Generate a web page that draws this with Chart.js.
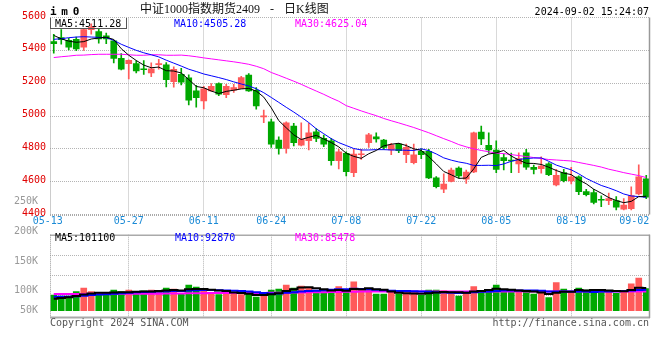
<!DOCTYPE html>
<html><head><meta charset="utf-8">
<script src="https://cdn.jsdelivr.net/npm/chart.js@4.4.1/dist/chart.umd.min.js"></script>
<style>
html,body{margin:0;padding:0;background:#fff;}
#wrap{position:relative;width:660px;height:360px;overflow:hidden;background:#fff;}
canvas{position:absolute;left:0;}
.t{position:absolute;white-space:pre;font-family:"DejaVu Sans Mono",monospace;font-size:10px;line-height:10px;}
</style></head><body>
<div id="wrap">
<canvas id="main" width="660" height="232" style="top:0px"></canvas>
<canvas id="vol" width="660" height="135" style="top:195px"></canvas>
<div class="t" style="left:50px;top:6px;font-size:11px;line-height:11px;font-weight:bold;letter-spacing:4.7px;color:#000">im0</div>
<div class="t" style="left:140px;top:3px;font-family:'Liberation Serif','Noto Sans CJK SC',serif;font-size:12px;line-height:12px;word-spacing:7px;color:#111">中证1000指数期货2409 - 日K线图</div>
<div class="t" style="right:11px;top:7px;color:#000">2024-09-02 15:24:07</div>
<div style="position:absolute;left:50px;top:18px;width:77px;height:11px;box-sizing:border-box;border:1px solid #555;border-top:none"></div>
<div class="t" style="left:55px;top:19px;color:#000">MA5:4511.28</div>
<div class="t" style="left:174px;top:19px;color:#0000ff">MA10:4505.28</div>
<div class="t" style="left:295px;top:19px;color:#ff00ff">MA30:4625.04</div>
<div class="t" style="left:55px;top:233px;color:#000">MA5:101100</div>
<div class="t" style="left:175px;top:233px;color:#0000ff">MA10:92870</div>
<div class="t" style="left:295px;top:233px;color:#ff00ff">MA30:85478</div>
<div class="t" style="left:50px;top:318px;color:#555">Copyright 2024 SINA.COM</div>
<div class="t" style="right:11px;top:318px;color:#555">http://finance.sina.com.cn</div>
</div>
<script>
const dates = ['05-13','05-14','05-15','05-16','05-17','05-20','05-21','05-22','05-23','05-24',
'05-27','05-28','05-29','05-30','05-31','06-03','06-04','06-05','06-06','06-07',
'06-11','06-12','06-13','06-14','06-17','06-18','06-19','06-20','06-21','06-24',
'06-25','06-26','06-27','06-28','07-01','07-02','07-03','07-04','07-05','07-08',
'07-09','07-10','07-11','07-12','07-15','07-16','07-17','07-18','07-19','07-22',
'07-23','07-24','07-25','07-26','07-29','07-30','07-31','08-01','08-02','08-05',
'08-06','08-07','08-08','08-09','08-12','08-13','08-14','08-15','08-16','08-19',
'08-20','08-21','08-22','08-23','08-26','08-27','08-28','08-29','08-30','09-02'];

const openP = [5453,5478,5461,5467,5420,5526,5514,5489,5458,5351,
 5319,5319,5285,5263,5313,5311,5209,5254,5233,5153,
 5092,5153,5198,5130,5157,5167,5250,5157,4995,4965,
 4853,4803,4938,4823,4849,4904,4864,4849,4728,4773,
 4655,4764,4837,4873,4853,4793,4829,4764,4716,4785,
 4785,4623,4554,4602,4683,4615,4659,4902,4821,4793,
 4746,4730,4708,4776,4688,4679,4708,4580,4655,4604,
 4630,4539,4533,4491,4485,4485,4432,4436,4525,4618];
const highP = [5497,5527,5473,5480,5534,5562,5534,5505,5463,5380,
 5342,5336,5337,5324,5345,5325,5300,5291,5251,5187,
 5181,5198,5202,5193,5193,5242,5258,5173,5036,4981,
 4873,4965,4955,4958,4955,4924,4884,4864,4797,4782,
 4797,4797,4894,4898,4858,4833,4833,4829,4829,4800,
 4797,4631,4647,4683,4691,4671,4902,4938,4898,4849,
 4768,4774,4776,4797,4701,4752,4716,4675,4675,4687,
 4635,4554,4554,4513,4530,4509,4497,4568,4702,4639];
const lowP = [5382,5437,5402,5398,5400,5499,5444,5440,5323,5280,
 5226,5263,5254,5239,5286,5177,5175,5189,5068,5054,
 5043,5151,5124,5112,5143,5166,5149,5042,4960,4809,
 4768,4773,4817,4817,4793,4843,4813,4701,4677,4635,
 4630,4736,4809,4841,4797,4764,4776,4716,4708,4740,
 4618,4562,4533,4598,4623,4590,4655,4825,4773,4655,
 4671,4655,4655,4675,4647,4651,4637,4574,4598,4586,
 4521,4513,4465,4448,4460,4428,4428,4428,4519,4497];
const closeP = [5441,5465,5420,5408,5526,5542,5469,5469,5351,5286,
 5339,5274,5282,5288,5316,5221,5285,5206,5096,5111,
 5165,5181,5133,5180,5173,5234,5153,5062,5000,4829,
 4803,4958,4837,4858,4898,4864,4829,4728,4782,4661,
 4768,4766,4886,4861,4809,4825,4789,4809,4764,4764,
 4623,4570,4586,4671,4635,4659,4898,4861,4793,4675,
 4728,4726,4740,4688,4675,4695,4643,4639,4606,4630,
 4539,4521,4473,4487,4497,4445,4457,4516,4630,4505];

const ma5 = [5491,5470,5456,5449,5453,5469,5475,5480,5466,5410,
 5370,5338,5310,5294,5298,5276,5274,5262,5222,5180,
 5172,5152,5137,5150,5157,5165,5168,5152,5115,5050,
 4972,4928,4885,4857,4870,4882,4860,4838,4812,4773,
 4754,4742,4770,4790,4818,4828,4834,4820,4800,4790,
 4752,4708,4662,4642,4620,4622,4678,4748,4768,4776,
 4790,4756,4732,4712,4711,4705,4688,4668,4652,4643,
 4611,4587,4554,4530,4503,4485,4472,4480,4509,4511.28];
const ma10 = [5467,5471,5477,5481,5483,5481,5479,5477,5461,5437,
 5418,5400,5385,5373,5360,5340,5322,5304,5285,5271,
 5256,5245,5234,5222,5208,5195,5183,5166,5142,5113,
 5083,5053,5024,4993,4960,4922,4892,4862,4838,4820,
 4802,4793,4793,4795,4795,4793,4793,4791,4790,4800,
 4789,4769,4745,4731,4720,4712,4699,4699,4700,4698,
 4708,4724,4735,4741,4744,4745,4724,4701,4686,4672,
 4648,4620,4598,4577,4562,4545,4525,4513,4509,4505.28];
const ma30 = [5356,5361,5365,5370,5371,5374,5376,5376,5376,5376,
 5373,5370,5370,5373,5373,5370,5370,5371,5367,5361,
 5354,5348,5342,5336,5330,5323,5315,5303,5288,5265,
 5248,5230,5212,5193,5172,5152,5132,5110,5090,5063,
 5047,5031,5016,5002,4985,4971,4958,4944,4930,4914,
 4898,4880,4862,4845,4826,4812,4800,4790,4782,4774,
 4771,4765,4759,4753,4747,4741,4735,4732,4729,4726,
 4717,4708,4699,4689,4676,4666,4655,4646,4637,4625.04];

const volume = [70000,65000,65000,85000,101000,85000,74000,72000,92000,85000,
 92000,85000,88000,92000,82000,101000,96000,74000,114000,105000,
 96000,74000,72000,85000,74000,72000,77000,61000,67000,92000,
 96000,114000,101000,110000,101000,85000,85000,80000,107000,85000,
 129000,95000,92000,74000,74000,85000,74000,74000,80000,68000,
 92000,92000,88000,77000,65000,77000,107000,88000,88000,114000,
 92000,85000,92000,85000,74000,80000,58000,125000,96000,80000,
 101000,92000,92000,92000,85000,77000,88000,120000,145000,99000];
const volMa5 = [53000,57000,60000,65000,72000,77000,80000,80000,81000,82000,
 82000,84000,85000,86000,88000,90000,92000,90000,95000,97000,
 97000,93000,90000,88000,81000,79000,76000,70000,70000,73000,
 78000,88000,95000,103000,104000,100000,96000,90000,92000,89000,
 97000,96000,100000,96000,93000,86000,80000,78000,77000,75000,
 78000,81000,83000,82000,82000,80000,85000,88000,92000,98000,
 96000,93000,90000,88000,85000,81000,74000,80000,84000,84000,
 92000,90000,92000,92000,90000,88000,87000,92000,102000,101100];
const volMa10 = [62000,62000,62000,64000,67000,70000,72000,73000,76000,78000,
 80000,82000,83000,84000,85000,87000,88000,88000,90000,91000,
 92000,92000,91000,90000,89000,88000,85000,82000,79000,77000,
 77000,80000,82000,86000,88000,89000,91000,93000,96000,96000,
 98000,97000,95000,93000,91000,89000,88000,88000,87000,86000,
 84000,82000,81000,80000,79000,80000,82000,84000,86000,88000,
 90000,90000,90000,90000,90000,89000,85000,85000,86000,86000,
 86000,85000,83000,85000,86000,87000,88000,90000,92000,92870];
const volMa30 = [74000,74000,74000,74000,74000,75000,75000,75000,75000,75000,
 75000,76000,76000,76000,76000,77000,77000,77000,78000,78000,
 78000,79000,79000,79000,79000,79000,79000,79000,79000,80000,
 80000,80000,81000,81000,82000,82000,82000,83000,83000,84000,
 84000,85000,85000,85000,85000,85000,85000,85000,85000,85000,
 85000,85000,85000,85000,85000,85000,86000,86000,86000,86000,
 86000,86000,86000,86000,86000,86000,85000,86000,86000,86000,
 86000,86000,86000,86000,86000,85000,85000,86000,86000,85478];

const priceTicks = [4400,4600,4800,5000,5200,5400,5600];
const xTickDates = ['05-13','05-27','06-11','06-24','07-08','07-22','08-05','08-19','09-02'];
const volTickLabels = ['250K','200K','150K','100K','50K'];

const UP = '#ff5a5a', DOWN = '#00a800', GRID = '#b4b4b4';
const MONO = 'DejaVu Sans Mono';
const candleColors = closeP.map((c, i) => c >= openP[i] ? UP : DOWN);

const filterX = s => { s.ticks = s.ticks.filter(t => xTickDates.includes(dates[t.value])); };
const gridColorX = ctx => (ctx.index === 0 || ctx.index === xTickDates.length - 1) ? 'rgba(0,0,0,0)' : GRID;

function line(ctx, x1, y1, x2, y2, color, w, dash) {
  ctx.save(); ctx.strokeStyle = color; ctx.lineWidth = w; ctx.setLineDash(dash || []);
  ctx.beginPath(); ctx.moveTo(x1, y1); ctx.lineTo(x2, y2); ctx.stroke(); ctx.restore();
}
const frameMain = { id: 'frameMain', afterDraw(chart) {
  const c = chart.ctx, a = chart.chartArea;
  line(c, a.left + 0.5, a.top, a.left + 0.5, a.bottom, '#999', 1, [1, 1]);
  line(c, a.left, a.bottom + 0.5, a.right, a.bottom + 0.5, '#aaa', 2, [1, 1]);
  line(c, a.right - 0.5, a.top, a.right - 0.5, a.bottom, '#999', 1.5);
}};
const frameVol = { id: 'frameVol', afterDraw(chart) {
  const c = chart.ctx, a = chart.chartArea;
  line(c, a.left, a.top + 0.5, a.right, a.top + 0.5, '#aaa', 1.5);
  line(c, a.left + 0.5, a.top, a.left + 0.5, a.bottom, '#999', 1, [1, 1]);
  line(c, a.left, a.bottom - 0.5, a.right, a.bottom - 0.5, '#aaa', 2);
  line(c, a.right - 0.5, a.top, a.right - 0.5, a.bottom, '#999', 1.5);
}};

const maLine = (data, color, w, extra) => Object.assign({
  type: 'line', data, borderColor: color, borderWidth: w, pointRadius: 0,
  tension: 0, fill: false, order: 0 }, extra || {});

new Chart(document.getElementById('main'), {
  type: 'bar',
  data: { labels: dates, datasets: [
    maLine(ma5, '#000000', 1),
    maLine(ma10, '#0000ff', 1),
    maLine(ma30, '#ff00ff', 1),
    { data: openP.map((o, i) => [o, closeP[i]]), backgroundColor: candleColors,
      barThickness: 6, minBarLength: 1, grouped: false, order: 1 },
    { data: lowP.map((l, i) => [l, highP[i]]), backgroundColor: candleColors,
      barThickness: 1, grouped: false, order: 2 }
  ]},
  options: {
    responsive: false, animation: false, devicePixelRatio: 1,
    layout: { padding: { left: 0, right: 10, top: 17.5, bottom: 0 } },
    plugins: { legend: { display: false }, tooltip: { enabled: false } },
    scales: {
      x: {
        offset: true,
        grid: { offset: false, drawTicks: false, color: gridColorX, lineWidth: 1 },
        border: { display: false, dash: [1, 1] },
        ticks: { autoSkip: false, maxRotation: 0, padding: 1, color: '#1a8ad6',
          font: { family: MONO, size: 10 },
          callback: v => v === 0 ? dates[v] + '  ' : (v === dates.length - 1 ? dates[v] + '    ' : dates[v]) },
        afterBuildTicks: filterX,
        afterFit: s => { s.height = 17.5; s.paddingLeft = 0; s.paddingRight = 0; }
      },
      y: {
        min: priceTicks[0], max: priceTicks[priceTicks.length - 1],
        afterBuildTicks: s => { s.ticks = priceTicks.map(v => ({ value: v })); },
        grid: { drawTicks: false, color: GRID, lineWidth: 1 },
        border: { display: false, dash: [1, 1] },
        ticks: { padding: 4, labelOffset: -1.5, color: '#e00000', font: { family: MONO, size: 10 },
          callback: v => String(v) },
        afterFit: s => { s.width = 50; }
      }
    }
  },
  plugins: [frameMain]
});

new Chart(document.getElementById('vol'), {
  type: 'bar',
  data: { labels: dates, datasets: [
    maLine(volMa5, '#000000', 2, { stepped: 'middle', yAxisID: 'y' }),
    maLine(volMa10, '#0000ff', 2, { stepped: 'middle', yAxisID: 'y' }),
    maLine(volMa30, '#ff00ff', 2, { stepped: 'middle', yAxisID: 'y' }),
    { data: volume, backgroundColor: candleColors, barThickness: 6, grouped: false, order: 1, yAxisID: 'y' }
  ]},
  options: {
    responsive: false, animation: false, devicePixelRatio: 1,
    layout: { padding: { left: 0, right: 10, top: 39.7, bottom: 12 } },
    plugins: { legend: { display: false }, tooltip: { enabled: false } },
    scales: {
      x: {
        offset: true,
        grid: { offset: false, drawTicks: false, color: gridColorX, lineWidth: 1 },
        border: { display: false, dash: [1, 1] },
        ticks: { display: false, autoSkip: false },
        afterBuildTicks: filterX,
        afterFit: s => { s.height = 0; s.paddingLeft = 0; s.paddingRight = 0; }
      },
      y: {
        position: 'right', min: -32500, max: 338500,
        afterBuildTicks: s => { s.ticks = [68600, 157700, 246800].map(v => ({ value: v })); },
        grid: { drawTicks: false, color: GRID, lineWidth: 1 },
        border: { display: false, dash: [1, 1] },
        ticks: { display: false },
        afterFit: s => { s.width = 0; }
      },
      yl: {
        position: 'left', min: -32500, max: 338500,
        afterBuildTicks: s => { s.ticks = [488600, 355000, 221400, 92200, 0].map(v => ({ value: v })); },
        grid: { display: false },
        border: { display: false },
        ticks: { autoSkip: false, padding: 4, color: '#999999', font: { family: MONO, size: 10 },
          callback: (v, i) => volTickLabels[i] },
        afterFit: s => { s.width = 50; }
      }
    }
  },
  plugins: [frameVol]
});
</script>
</body></html>
